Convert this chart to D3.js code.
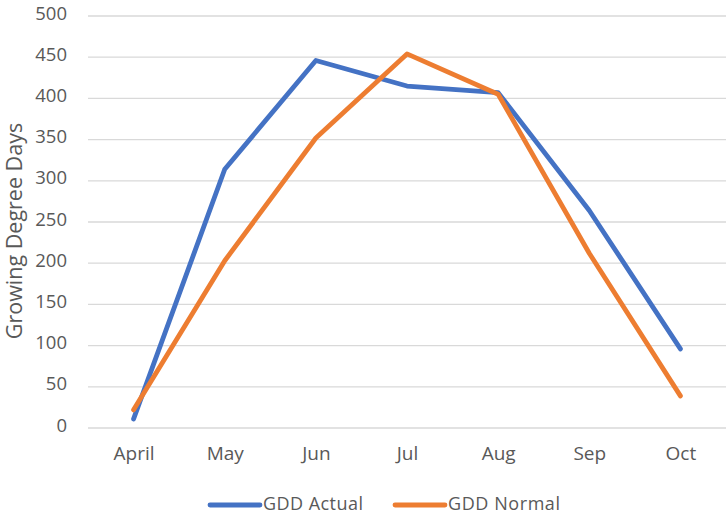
<!DOCTYPE html>
<html>
<head>
<meta charset="utf-8">
<script src="https://cdn.jsdelivr.net/npm/d3@7"></script>
<style>
  html, body { margin: 0; padding: 0; background: #fff; }
  svg { display: block; font-family: "Open Sans", "Noto Sans", sans-serif; }
</style>
</head>
<body>
<svg id="chart" width="726" height="515"></svg>
<script>
// Monthly growing degree days, season to date
const months = ["April", "May", "Jun", "Jul", "Aug", "Sep", "Oct"];
const gddActual = [11, 314, 446, 415, 407, 264, 96];
const gddNormal = [22, 203, 352, 454, 405, 212, 39];
const yTicks = [0, 50, 100, 150, 200, 250, 300, 350, 400, 450, 500];
const seriesNames = ["GDD Actual", "GDD Normal"];
const seriesColors = ["#4472C4", "#ED7D31"];

const svg = d3.select("#chart");
const width = 726;
const plotLeft = 88;
const labelColor = "#595959";

const x = d3.scalePoint()
  .domain(months)
  .range([plotLeft + 45.6, width - 45.6])
  .padding(0);

const y = d3.scaleLinear()
  .domain([0, 500])
  .range([428, 16]);

// horizontal gridlines
svg.append("g")
  .selectAll("line")
  .data(yTicks)
  .join("line")
  .attr("x1", plotLeft)
  .attr("x2", width)
  .attr("y1", d => y(d))
  .attr("y2", d => y(d))
  .attr("stroke", "#d9d9d9")
  .attr("stroke-width", 1.3);

// y axis tick labels
const yAxis = d3.axisLeft(y).tickValues(yTicks).tickSize(0).tickPadding(0);
svg.append("g")
  .attr("transform", "translate(67,0)")
  .call(yAxis)
  .call(g => g.select(".domain").remove())
  .call(g => g.selectAll("text")
    .attr("dy", 3)
    .attr("fill", labelColor)
    .attr("font-size", 18.5)
    .attr("font-family", "'Open Sans', sans-serif"));

// x axis category labels
const xAxis = d3.axisBottom(x).tickSize(0).tickPadding(0);
svg.append("g")
  .attr("transform", "translate(0,460)")
  .call(xAxis)
  .call(g => g.select(".domain").remove())
  .call(g => g.selectAll("text")
    .attr("y", 0)
    .attr("dy", 0)
    .attr("fill", labelColor)
    .attr("font-size", 19)
    .attr("font-family", "'Open Sans', sans-serif"));

// y axis title
svg.append("text")
  .attr("transform", "translate(22,231) rotate(-90)")
  .attr("text-anchor", "middle")
  .attr("fill", labelColor)
  .attr("font-size", 21.5)
  .text("Growing Degree Days");

// series lines
const line = d3.line()
  .x((d, i) => x(months[i]))
  .y(d => y(d));

[gddActual, gddNormal].forEach((vals, k) => {
  svg.append("path")
    .datum(vals)
    .attr("d", line)
    .attr("fill", "none")
    .attr("stroke", seriesColors[k])
    .attr("stroke-width", 4.8)
    .attr("stroke-linejoin", "round")
    .attr("stroke-linecap", "round");
});

// legend
const legendItems = [
  { name: seriesNames[0], color: seriesColors[0], x: 210 },
  { name: seriesNames[1], color: seriesColors[1], x: 395 }
];
const lg = svg.append("g");
legendItems.forEach(it => {
  lg.append("line")
    .attr("x1", it.x).attr("x2", it.x + 50)
    .attr("y1", 505).attr("y2", 505)
    .attr("stroke", it.color)
    .attr("stroke-width", 4.8)
    .attr("stroke-linecap", "round");
  lg.append("text")
    .attr("x", it.x + 53)
    .attr("y", 510)
    .attr("fill", labelColor)
    .attr("font-size", 18)
    .attr("textLength", it.name === seriesNames[0] ? 100 : 112)
    .text(it.name);
});
</script>
</body>
</html>
